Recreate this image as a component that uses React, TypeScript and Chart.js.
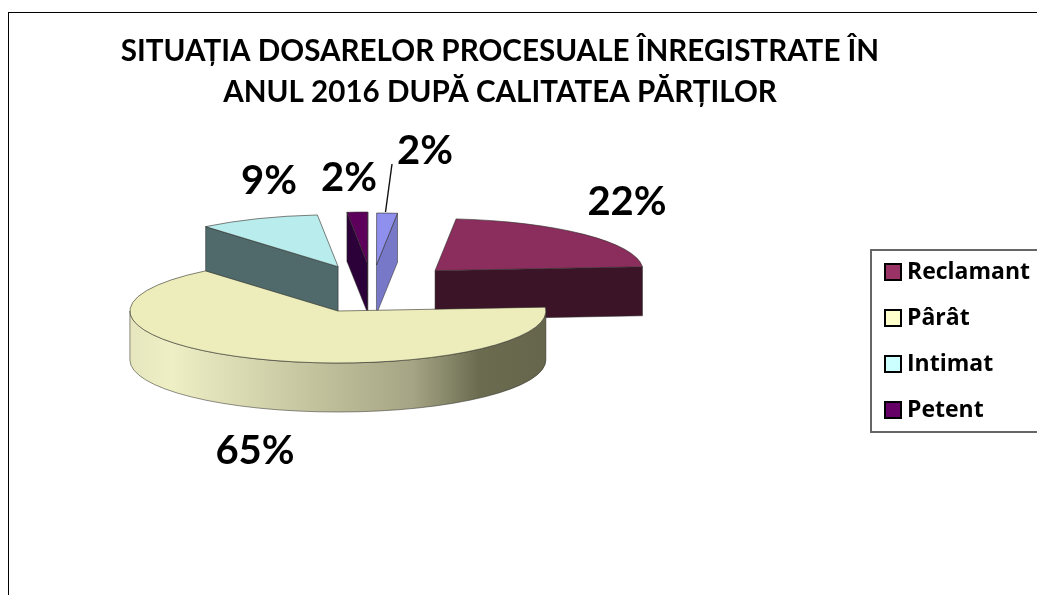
import React, { useEffect, useRef } from "react";
import { Chart, registerables } from "chart.js";

Chart.register(...registerables);

const titleLines = ["SITUAȚIA DOSARELOR PROCESUALE ÎNREGISTRATE ÎN", "ANUL 2016 DUPĂ CALITATEA PĂRȚILOR"];
const categories = ["Reclamant", "Pârât", "Intimat", "Petent", ""];
const values = [22.2, 65.2, 9.4, 1.6, 1.6];
const topColors = ["#8b2d5d", "#ededbb", "#b9ecec", "#5c005c", "#8f8fee"];
const wallColors = ["#3c1428", "#6a6a50", "#50696b", "#2c0038", "#7878c8"];
const legendColors = ["#993366", "#ffffcc", "#ccffff", "#660066", "#9999ff"];

const pieLook = {
  cx: 372,
  cy: 286,
  tilt: 0.25,
  depth: 49,
  explode: [88, 87, 88, 88, 88],
  lift: [0, 5, 1, 0, 1],
  labelAt: [[627, 202], [255, 451], [269, 181], [349, 178], [425, 151]],
  leader: [[392, 164], [385.5, 212]],
  wallStops: [[0, "#e6e6be"], [0.1, "#efefc6"], [0.4, "#c8c8a2"], [0.68, "#a5a585"], [0.84, "#6b6b50"], [1, "#66664c"]],
};

const EDGE = "rgba(45,45,40,0.75)";

const pie3d = {
  id: "pie3d",
  beforeDraw(chart: any) {
    const { ctx } = chart;
    ctx.save();
    ctx.fillStyle = "#ffffff";
    ctx.fillRect(0, 0, chart.width, chart.height);
    ctx.strokeStyle = "#000000";
    ctx.lineWidth = 1;
    ctx.strokeRect(8.5, 12.5, chart.width + 20, chart.height + 20);
    ctx.strokeStyle = "#666666";
    ctx.lineWidth = 2;
    ctx.strokeRect(871, 250, chart.width, 182);
    ctx.restore();
    chart.legend.left = 867.5;
    chart.legend.right = chart.width;
    chart.legend.top = 237.5;
    chart.legend.bottom = 445;
  },
  beforeDatasetsDraw(chart: any) {
    const { ctx } = chart;
    const arcs = chart.getDatasetMeta(0).data;
    const { cx, cy, tilt, depth, explode, lift, labelAt, leader, wallStops } = pieLook;
    const items = arcs.map((arc: any, i: number) => {
      const mid = (arc.startAngle + arc.endAngle) / 2;
      return {
        arc,
        i,
        ax: cx + Math.cos(mid) * explode[i],
        ay: cy + Math.sin(mid) * explode[i] * tilt + lift[i],
      };
    });
    items.sort((a: any, b: any) => a.ay - b.ay);

    const face = (ax: number, ay: number, r: number, angle: number, color: string) => {
      const rx = ax + Math.cos(angle) * r;
      const ry = ay + Math.sin(angle) * r * tilt;
      ctx.beginPath();
      ctx.moveTo(ax, ay);
      ctx.lineTo(rx, ry);
      ctx.lineTo(rx, ry + depth);
      ctx.lineTo(ax, ay + depth);
      ctx.closePath();
      ctx.fillStyle = color;
      ctx.fill();
      ctx.strokeStyle = EDGE;
      ctx.lineWidth = 0.7;
      ctx.stroke();
    };

    for (const { arc, i, ax, ay } of items) {
      const r = arc.outerRadius;
      const s = arc.startAngle;
      const e = arc.endAngle;
      if (Math.cos(s) < 0) face(ax, ay, r, s, wallColors[i]);
      if (Math.cos(e) > 0) face(ax, ay, r, e, wallColors[i]);

      // rim of the slice, on the side facing the viewer
      const a0 = Math.max(s, 0);
      const a1 = Math.min(e, Math.PI);
      if (a1 > a0) {
        const g = ctx.createLinearGradient(ax - r, 0, ax + r, 0);
        wallStops.forEach(([p, c]: any) => g.addColorStop(p, c));
        ctx.beginPath();
        ctx.ellipse(ax, ay, r, r * tilt, 0, a0, a1);
        ctx.ellipse(ax, ay + depth, r, r * tilt, 0, a1, a0, true);
        ctx.closePath();
        ctx.fillStyle = g;
        ctx.fill();
        ctx.strokeStyle = EDGE;
        ctx.lineWidth = 0.7;
        ctx.stroke();
      }

      // top face, the library's own arc in a flattened space
      ctx.save();
      ctx.translate(ax, ay);
      ctx.scale(1, tilt);
      ctx.translate(-arc.x, -arc.y);
      arc.draw(ctx);
      ctx.restore();
      ctx.beginPath();
      ctx.moveTo(ax, ay);
      ctx.ellipse(ax, ay, r, r * tilt, 0, s, e);
      ctx.closePath();
      ctx.strokeStyle = EDGE;
      ctx.lineWidth = 0.8;
      ctx.stroke();
    }

    ctx.save();
    ctx.strokeStyle = "#111111";
    ctx.lineWidth = 1.4;
    ctx.beginPath();
    ctx.moveTo(leader[0][0], leader[0][1]);
    ctx.lineTo(leader[1][0], leader[1][1]);
    ctx.stroke();
    ctx.fillStyle = "#000000";
    ctx.font = "bold 40px Lato";
    ctx.textAlign = "center";
    ctx.textBaseline = "middle";
    values.forEach((v, i) => {
      ctx.fillText(`${Math.round(v)}%`, labelAt[i][0], labelAt[i][1]);
    });
    ctx.restore();
    return false;
  },
};

export default function App() {
  const ref = useRef<HTMLCanvasElement | null>(null);
  useEffect(() => {
    const chart = new Chart(ref.current as HTMLCanvasElement, {
      type: "pie",
      data: {
        labels: categories,
        datasets: [{ data: values, backgroundColor: topColors, borderWidth: 0 }],
      },
      options: {
        responsive: false,
        animation: false,
        rotation: 5.8,
        radius: 208,
        layout: { padding: { right: 37 } },
        plugins: {
          tooltip: { enabled: false },
          title: {
            display: true,
            text: titleLines,
            color: "#000000",
            font: { family: "Lato", weight: "bold", size: 29.6, lineHeight: 1.385 },
            padding: { top: 31, bottom: 10 },
          },
          legend: {
            position: "right",
            align: "start",
            labels: {
              usePointStyle: true,
              boxWidth: 5,
              boxHeight: 16,
              padding: 23,
              color: "#000000",
              font: { family: "Open Sans", weight: "bold", size: 23 },
              generateLabels: () =>
                categories
                  .map((text, index) => ({
                    text,
                    index,
                    fillStyle: legendColors[index],
                    strokeStyle: "#000000",
                    lineWidth: 2,
                    pointStyle: "rect",
                    fontColor: "#000000",
                  }))
                  .filter((item) => item.text !== ""),
            },
          },
        },
      } as any,
      plugins: [pie3d as any],
    });
    return () => chart.destroy();
  }, []);
  return (
    <canvas
      ref={ref}
      width={1037}
      height={595}
      style={{ position: "absolute", left: 0, top: 0, display: "block" }}
    />
  );
}
